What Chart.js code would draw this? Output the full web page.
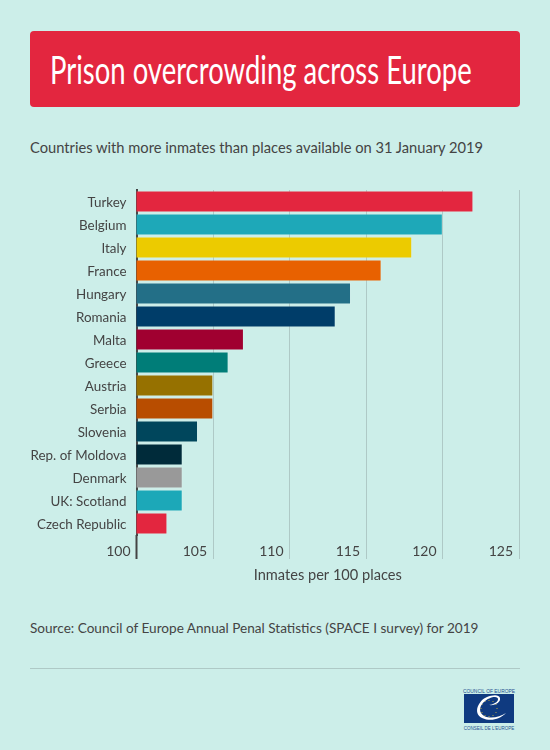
<!DOCTYPE html>
<html>
<head>
<meta charset="utf-8">
<title>Prison overcrowding across Europe</title>
<script src="https://cdn.jsdelivr.net/npm/chart.js@4"></script>
<style>
  html, body { margin: 0; padding: 0; background: #cceee9; }
  body { position: relative; width: 550px; height: 750px; overflow: hidden; font-family: Lato, sans-serif; color: #444; }
  #banner { position: absolute; left: 30px; top: 31px; width: 490px; height: 76px; background: #e3263f; border-radius: 4px; }
  /* no condensed face installed, so the title is squeezed */
  #banner span { position: absolute; left: 20px; top: 15px; font: 38px/46px Lato, sans-serif; color: #fff; white-space: nowrap; transform: scaleX(0.723); transform-origin: left top; }
  .note { position: absolute; left: 30px; line-height: 18px; white-space: nowrap; }
  #subtitle { top: 138px; font-size: 14.7px; }
  #source { top: 619px; font-size: 13.6px; }
  #rule { position: absolute; left: 30px; top: 668px; width: 490px; height: 1px; background: #aec9c6; }
  #chartBox { position: absolute; left: 0; top: 180px; }
  #logo { position: absolute; left: 460px; top: 686px; }
</style>
</head>
<body>
<div id="banner"><span>Prison overcrowding across Europe</span></div>
<div class="note" id="subtitle">Countries with more inmates than places available on 31 January 2019</div>
<div id="chartBox"><canvas id="prisonChart" width="550" height="410"></canvas></div>
<div class="note" id="source">Source: Council of Europe Annual Penal Statistics (SPACE I survey) for 2019</div>
<div id="rule"></div>
<svg id="logo" width="58" height="46" viewBox="0 0 58 46">
  <text x="29" y="6.5" text-anchor="middle" font-family="Liberation Sans" font-size="4.9" fill="#1f4f8f">COUNCIL OF EUROPE</text>
  <rect x="4" y="8" width="50" height="29" fill="#0f3a80"/>
  <g fill="#c9b23a">
    <circle cx="29" cy="14.5" r=".6"/><circle cx="33" cy="15.5" r=".6"/><circle cx="36" cy="18.5" r=".6"/>
    <circle cx="37" cy="22.5" r=".6"/><circle cx="36" cy="26.5" r=".6"/><circle cx="33" cy="29.5" r=".6"/>
    <circle cx="29" cy="30.5" r=".6"/><circle cx="25" cy="29.5" r=".6"/><circle cx="22" cy="26.5" r=".6"/>
    <circle cx="21" cy="22.5" r=".6"/><circle cx="22" cy="18.5" r=".6"/><circle cx="25" cy="15.5" r=".6"/>
  </g>
  <path d="M22 32 C31 36 40 33 46 27 C39 32 25 34 21 27 C17 19 28 11 35 11 C39 11 39 15 35 17 C33 18 31 19 29 19 C35 20 41 16 40 12 C39 8 32 9 27 11 C19 14 12 27 22 32 Z" fill="#fff"/>
  <text x="29" y="44" text-anchor="middle" font-family="Liberation Sans" font-size="4.5" fill="#1f4f8f">CONSEIL DE L'EUROPE</text>
</svg>

<script>
const countries = ["Turkey", "Belgium", "Italy", "France", "Hungary", "Romania", "Malta", "Greece",
  "Austria", "Serbia", "Slovenia", "Rep. of Moldova", "Denmark", "UK: Scotland", "Czech Republic"];
const inmates = [122, 120, 118, 116, 114, 113, 107, 106, 105, 105, 104, 103, 103, 103, 102];
const barColors = ["#e3263f", "#1ea8b8", "#eccb00", "#e86100", "#236f87", "#003d69", "#a00030", "#007d78",
  "#967100", "#b84d00", "#00465c", "#002b3a", "#999999", "#1ca8b8", "#e3263f"];

const textColor = "#444";
const gridColor = "#aec9c6";

new Chart(document.getElementById("prisonChart"), {
  type: "bar",
  data: {
    labels: countries,
    datasets: [{
      data: inmates,
      backgroundColor: barColors,
      borderColor: "rgba(255,255,255,0.12)",
      borderWidth: 1,
      barThickness: 21.5
    }]
  },
  options: {
    indexAxis: "y",
    responsive: false,
    animation: false,
    layout: { padding: { top: 10, right: 31, left: 0, bottom: 0 } },
    plugins: { legend: { display: false }, tooltip: { enabled: false } },
    scales: {
      x: {
        min: 100,
        max: 125,
        afterFit: scale => { scale.height = 55; },
        border: { display: false },
        grid: {
          color: gridColor,
          lineWidth: 1,
          tickLength: 24,
          // the first tick carries the dark axis line down past the bars
          tickColor: ctx => ctx.tick.value === 100 ? textColor : gridColor,
          tickWidth: ctx => ctx.tick.value === 100 ? 2 : 1
        },
        ticks: {
          stepSize: 5,
          color: textColor,
          font: { family: "Lato, sans-serif", size: 14 },
          align: "end",
          labelOffset: -6,
          padding: -16,
          maxRotation: 0
        },
        title: {
          display: true,
          text: "Inmates per 100 places",
          color: textColor,
          font: { family: "Lato, sans-serif", size: 14.6 },
          padding: { top: 0, bottom: 6 }
        }
      },
      y: {
        afterFit: scale => {
          scale.width = 136.5;
          // tick padding otherwise pushes the chart area down
          scale.paddingTop = 0;
          scale.paddingBottom = 0;
        },
        border: { color: textColor, width: 2 },
        grid: { display: false, drawTicks: false },
        ticks: { color: textColor, font: { family: "Lato, sans-serif", size: 13.4 }, padding: 10, labelOffset: 1, autoSkip: false }
      }
    }
  }
});
</script>
</body>
</html>
